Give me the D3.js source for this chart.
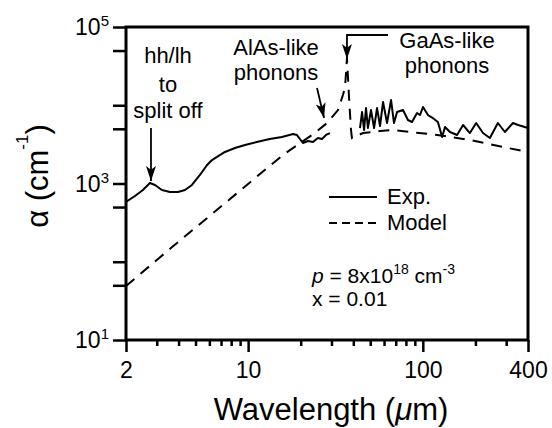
<!DOCTYPE html>
<html><head><meta charset="utf-8">
<script src="https://cdn.jsdelivr.net/npm/d3@7"></script>
<style>
body{margin:0;background:#fff}
svg{display:block;font-family:"Liberation Sans",Arial,Helvetica,sans-serif}
</style>
</head><body>
<svg id="c" width="552" height="428"></svg>
<script>
// ---- data ----
const xTickMajor = [2, 10, 100, 400];
const xTickLabels = ["2", "10", "100", "400"];
const xTickMinor = [3,4,5,6,7,8,9,20,30,40,50,60,70,80,90,200,300];
const yTicks = [10, 50, 100, 500, 1000, 5000, 10000, 50000, 100000];
const yTickLabelExp = [1, 3, 5];

// Experimental absorption (null marks the gap in the data)
const expWavelength = [2.00,2.25,2.50,2.74,2.93,3.21,3.57,3.97,4.35,4.77,5.30,5.82,6.21,6.64,7.37,8.41,9.60,11.2,13.3,15.6,18.1,19.0,19.8,20.6,22.0,23.5,25.1,26.5,27.9,29.4,
  null,
  43.7,44.9,46.1,47.3,48.5,50.5,52.6,54.7,56.9,59.2,62.4,65.8,68.4,71.2,77.0,82.2,86.7,92.7,96.4,100.2,107,114,122,129,134,143,157,170,186,202,221,242,269,295,328,351,400];
const expAlpha = [581,692,826,1015,957,826,779,779,826,957,1285,1722,1995,2183,2530,2845,3105,3390,3705,3930,4295,4170,3705,3296,3495,3390,3820,3705,4170,4416,
  null,
  5117,8200,4830,9226,5117,8690,5117,9226,5430,11010,5930,11670,5930,8200,8690,6475,6110,7960,7500,9500,7500,6870,6110,3930,5270,4550,4170,5590,4416,5930,4416,3810,5930,4550,5930,5590,5117];

// Model
const modelWavelength = [2.00,3.67,7.88,15.8,24.1,28.3,32.7,34.9,35.9,36.8,37.8,38.8,39.3,45.5,56.9,67.5,84.5,121,186,288,400];
const modelAlpha = [49,154,634,2310,4416,5930,8690,13520,17100,40200,12730,4830,3810,4416,4690,4830,4550,4170,3600,2925,2530];

// ---- chart ----
const svg = d3.select("#c");
const x = d3.scaleLog().domain([2, 400]).range([126, 528]);
const y = d3.scaleLog().domain([10, 1e5]).range([340, 27]);

const expData = expWavelength.map((w, i) => ({w, a: expAlpha[i]}));
const modelData = modelWavelength.map((w, i) => ({w, a: modelAlpha[i]}));

const line = d3.line().defined(d => d.w != null && d.a != null).x(d => x(d.w)).y(d => y(d.a));

svg.append("path").datum(modelData).attr("d", line)
  .attr("fill", "none").attr("stroke", "#000").attr("stroke-width", 2)
  .attr("stroke-dasharray", "11,8");
svg.append("path").datum(expData).attr("d", line)
  .attr("fill", "none").attr("stroke", "#000").attr("stroke-width", 2)
  .attr("stroke-linejoin", "round");

// frame
svg.append("rect").attr("x", 126).attr("y", 27).attr("width", 402).attr("height", 313)
  .attr("fill", "none").attr("stroke", "#000").attr("stroke-width", 3);

// x axis ticks
const gx = svg.append("g").attr("transform", "translate(0,340)");
gx.call(d3.axisBottom(x).tickValues(xTickMinor).tickSize(6).tickFormat(""));
gx.call(g => g.select(".domain").remove());
const gx2 = svg.append("g").attr("transform", "translate(0,340)");
gx2.call(d3.axisBottom(x).tickValues(xTickMajor).tickSize(12)
  .tickFormat((d, i) => xTickLabels[i]).tickPadding(8));
gx2.call(g => g.select(".domain").remove());
svg.selectAll("g.tick line").attr("stroke-width", 2.5);
gx2.selectAll("text").attr("font-size", 23).attr("font-family", "Liberation Sans, Arial, sans-serif")
  .attr("dy", null).attr("y", 38).attr("fill", "#000");

// y axis ticks
const gy = svg.append("g").attr("transform", "translate(126,0)");
gy.call(d3.axisLeft(y).tickValues(yTicks).tickSize(13).tickFormat(""));
gy.call(g => g.select(".domain").remove());
gy.selectAll("line").attr("stroke-width", 2.5);

// y labels 10^n
yTickLabelExp.forEach(e => {
  const t = svg.append("text").attr("x", 109).attr("y", y(Math.pow(10, e)) + 8)
    .attr("text-anchor", "end").attr("font-size", 23);
  t.append("tspan").text("10");
  t.append("tspan").attr("font-size", 15).attr("dy", -9).text(e);
});

// axis titles
const xt = svg.append("text").attr("x", 331).attr("y", 420).attr("text-anchor", "middle").attr("font-size", 31);
xt.append("tspan").text("Wavelength (");
xt.append("tspan").attr("font-style", "italic").text("\u03BC");
xt.append("tspan").text("m)");

const yt = svg.append("text").attr("transform", "translate(48,176) rotate(-90)")
  .attr("text-anchor", "middle").attr("font-size", 31);
yt.append("tspan").text("\u03B1 (cm");
yt.append("tspan").attr("font-size", 17).attr("dy", -20).text("-1");
yt.append("tspan").attr("dy", 20).text(")");

// arrows
function head(x1, y1, x2, y2) {
  const ang = Math.atan2(y2 - y1, x2 - x1), L = 15, w = 5;
  const c = Math.cos(ang), s = Math.sin(ang);
  const bx = x2 - L * c, by = y2 - L * s;
  const nx = x2 - 0.75 * L * c, ny = y2 - 0.75 * L * s;
  svg.append("path").attr("d",
    `M${x2},${y2}L${bx - w * s},${by + w * c}L${nx},${ny}L${bx + w * s},${by - w * c}Z`)
    .attr("fill", "#000");
}
function arrow(pts) {
  svg.append("path").attr("d", d3.line()(pts)).attr("fill", "none")
    .attr("stroke", "#000").attr("stroke-width", 1.8);
  const n = pts.length;
  head(pts[n - 2][0], pts[n - 2][1], pts[n - 1][0], pts[n - 1][1]);
}
arrow([[x(2.78), y(5117)], [x(2.78), y(1077)]]);
arrow([[x(24.8), y(16600)], [x(27.2), y(6870)]]);
arrow([[x(63.2), y(79000)], [x(36.8), y(79000)], [x(36.8), y(39000)]]);

// annotation texts
function lines(cx, ys, arr) {
  arr.forEach((s, i) => svg.append("text").attr("x", cx).attr("y", ys[i])
    .attr("text-anchor", "middle").attr("font-size", 22).text(s));
}
lines(168, [63, 92, 118], ["hh/lh", "to", "split off"]);
lines(276, [55, 80], ["AlAs-like", "phonons"]);
lines(447, [48, 73], ["GaAs-like", "phonons"]);

// legend
svg.append("line").attr("x1", 329).attr("x2", 377).attr("y1", 197).attr("y2", 197)
  .attr("stroke", "#000").attr("stroke-width", 2);
svg.append("line").attr("x1", 329).attr("x2", 377).attr("y1", 223).attr("y2", 223)
  .attr("stroke", "#000").attr("stroke-width", 2).attr("stroke-dasharray", "8,5");
svg.append("text").attr("x", 387).attr("y", 204).attr("font-size", 22).text("Exp.");
svg.append("text").attr("x", 387).attr("y", 230).attr("font-size", 22).text("Model");

const pt = svg.append("text").attr("x", 312).attr("y", 283).attr("font-size", 21);
pt.append("tspan").attr("font-style", "italic").text("p");
pt.append("tspan").text(" = 8x10");
pt.append("tspan").attr("font-size", 14).attr("dy", -9).text("18");
pt.append("tspan").attr("dy", 9).text(" cm");
pt.append("tspan").attr("font-size", 14).attr("dy", -9).text("-3");
svg.append("text").attr("x", 312).attr("y", 306).attr("font-size", 21).text("x = 0.01");
</script>
</body></html>
